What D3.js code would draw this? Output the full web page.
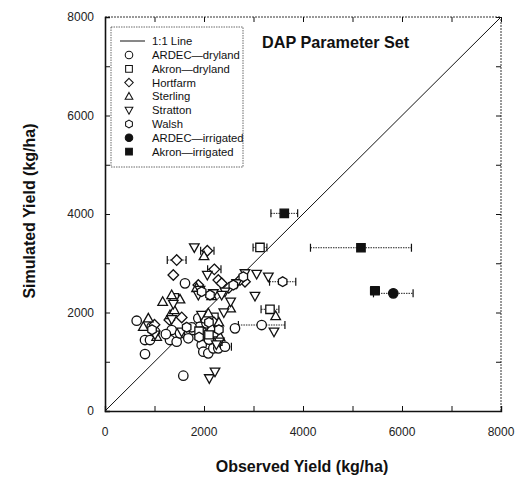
<!DOCTYPE html>
<html><head><meta charset="utf-8">
<script src="https://cdn.jsdelivr.net/npm/d3@7"></script>
<style>body{margin:0;background:#fff}svg{display:block}</style>
</head><body>
<svg id="c" width="524" height="484"></svg>
<script>
// [observed, simulated, xError(optional)]
const ardecDryland = [[640,1833],[808,1157],[808,1441],[909,1441],[943,1711],[1010,1610],[1313,1441],[1347,1644],[1448,1407],[1515,1577],[1683,1476],[1784,1644],[1885,1882],[1919,1711],[1953,1610],[1986,1509],[1953,1340],[1986,1204],[2087,1171],[2188,1272],[2289,1272],[2424,1305,130],[1582,717],[1616,2592],[2626,1678],[3165,1746,470],[2050,1780],[2150,1620],[2100,1450],[2250,1550],[1750,1700],[1230,1560],[2220,1700],[2020,1880]];
const akronDryland = [[3131,3321,140],[3333,2065,180],[2100,1550],[2200,1900],[1900,1620],[1400,2300],[2280,1420]];
const hortfarm = [[1448,3065,190],[2067,3254,135],[2208,2876,135],[1380,2761],[2289,2659],[2357,2592],[2828,2625],[2727,2659],[1885,2558],[1300,1850],[2200,1800],[2500,2500],[1550,1900],[1000,1750]];
const sterling = [[2000,3146],[1165,2219],[1347,2355],[1515,2267],[1313,1949],[875,1882],[774,1711],[3448,1929],[2538,2085],[2087,1984],[2155,2335],[2323,1509],[1044,1509],[1850,2500],[2150,1700],[2300,1800],[1400,2050]];
const stratton = [[1804,3321],[2067,2761],[1380,2172],[1549,1610],[2309,1407],[2107,663],[2222,798],[3414,1610],[3030,2335],[2538,2219],[3300,2726],[3064,2781],[2828,2795],[2660,2592],[2424,2422],[2357,2355],[1919,2456],[1885,2355],[2188,2389],[1347,1862],[1010,1550],[2250,1350],[1950,1950],[2400,2000]];
const walsh = [[3589,2625,265],[2592,2558],[2121,2355],[1953,2422],[2794,2726],[2100,1800],[1650,1700],[1900,1500],[2300,1650],[950,1650]];
const ardecIrrigated = [[5824,2389,400]];
const akronIrrigated = [[3622,4013,270],[5171,3315,1020],[5454,2442,90]];

const seriesNames = ["ARDEC\u2014dryland","Akron\u2014dryland","Hortfarm","Sterling","Stratton","Walsh","ARDEC\u2014irrigated","Akron\u2014irrigated"];
const seriesData = [ardecDryland, akronDryland, hortfarm, sterling, stratton, walsh, ardecIrrigated, akronIrrigated];
const seriesShapes = ["circle","square","diamond","up","down","hex","circle","square"];
const seriesFilled = [false,false,false,false,false,false,true,true];
const axisTicks = [0,2000,4000,6000,8000];
const minorTicks = [0,1000,2000,3000,4000,5000,6000,7000,8000];

const svg = d3.select("#c");
const x = d3.scaleLinear().domain([0,8000]).range([105,501]);
const y = d3.scaleLinear().domain([0,8000]).range([411,17]);
const font = "'Liberation Sans', Arial, sans-serif";

function shapePath(s){
  switch(s){
    case "circle": return d3.symbol(d3.symbolCircle, 70)();
    case "square": return "M-4.2,-4.2H4.2V4.2H-4.2Z";
    case "diamond": return "M0,-5.3L5.3,0L0,5.3L-5.3,0Z";
    case "up": return "M0,-5L4.8,3.6L-4.8,3.6Z";
    case "down": return "M0,5L4.8,-3.6L-4.8,-3.6Z";
    case "hex": {
      const r=4.9; let p=[];
      for(let i=0;i<6;i++){const a=Math.PI/6+i*Math.PI/3;p.push([r*Math.cos(a),r*Math.sin(a)]);}
      return "M"+p.map(d=>d.join(",")).join("L")+"Z";
    }
  }
}

// frame
svg.append("line").attr("x1",x(0)).attr("x2",x(8000)).attr("y1",y(8000)).attr("y2",y(8000)).attr("stroke","#333").attr("stroke-width",1).attr("stroke-dasharray","2,1");
svg.append("line").attr("x1",x(8000)).attr("x2",x(8000)).attr("y1",y(0)).attr("y2",y(8000)).attr("stroke","#333").attr("stroke-width",1).attr("stroke-dasharray","2,1");

// axes with inward ticks
const gx = svg.append("g").attr("transform",`translate(0,${y(0)})`)
  .call(d3.axisBottom(x).tickValues(minorTicks).tickSize(-5).tickFormat(""));
const gy = svg.append("g").attr("transform",`translate(${x(0)},0)`)
  .call(d3.axisLeft(y).tickValues(minorTicks).tickSize(-5).tickFormat(""));
const gt = svg.append("g").attr("transform",`translate(0,${y(8000)})`)
  .call(d3.axisTop(x).tickValues(minorTicks).tickSize(-5).tickFormat(""));
const gr = svg.append("g").attr("transform",`translate(${x(8000)},0)`)
  .call(d3.axisRight(y).tickValues(minorTicks).tickSize(-5).tickFormat(""));
[gt,gr].forEach(g=>g.select(".domain").remove());
[gx,gy,gt,gr].forEach(g=>g.selectAll(".tick line").attr("stroke","#111"));
gx.select(".domain").attr("stroke","#111").attr("stroke-width",1.4);
gy.select(".domain").attr("stroke","#111").attr("stroke-width",1.6);

// tick labels
svg.append("g").selectAll("text").data(axisTicks).join("text")
  .attr("x",d=>x(d)).attr("y",436).attr("text-anchor","middle")
  .attr("font-family",font).attr("font-size",12).attr("fill","#222").text(d=>d);
svg.append("g").selectAll("text").data(axisTicks).join("text")
  .attr("x",94).attr("y",d=>y(d)+4).attr("text-anchor","end")
  .attr("font-family",font).attr("font-size",12).attr("fill","#222").text(d=>d);

// axis titles
svg.append("text").attr("x",302).attr("y",472).attr("text-anchor","middle")
  .attr("font-family",font).attr("font-weight","bold").attr("font-size",16).attr("fill","#111")
  .text("Observed Yield (kg/ha)");
svg.append("text").attr("transform","translate(35,211) rotate(-90)").attr("text-anchor","middle")
  .attr("font-family",font).attr("font-weight","bold").attr("font-size",16).attr("fill","#111")
  .text("Simulated Yield (kg/ha)");

// title
svg.append("text").attr("x",262).attr("y",48)
  .attr("font-family",font).attr("font-weight","bold").attr("font-size",16.2).attr("fill","#111")
  .text("DAP Parameter Set");

// 1:1 line
svg.append("line").attr("x1",x(0)).attr("y1",y(0)).attr("x2",x(8000)).attr("y2",y(8000))
  .attr("stroke","#111").attr("stroke-width",1);

// error bars
const eb = svg.append("g");
seriesData.forEach(arr=>{
  arr.filter(d=>d.length>2).forEach(d=>{
    const x0=x(d[0]-d[2]), x1=x(d[0]+d[2]), yy=y(d[1]);
    eb.append("line").attr("x1",x0).attr("x2",x1).attr("y1",yy).attr("y2",yy)
      .attr("stroke","#222").attr("stroke-width",1).attr("stroke-dasharray","1.5,1");
    [x0,x1].forEach(xx=>eb.append("line").attr("x1",xx).attr("x2",xx).attr("y1",yy-4).attr("y2",yy+4)
      .attr("stroke","#111").attr("stroke-width",1.2));
  });
});

// points
seriesData.forEach((arr,i)=>{
  svg.append("g").selectAll("path").data(arr).join("path")
    .attr("transform",d=>`translate(${x(d[0])},${y(d[1])})`)
    .attr("d",shapePath(seriesShapes[i]))
    .attr("fill",seriesFilled[i]?"#111":"#fff")
    .attr("stroke","#111").attr("stroke-width",1.3);
});

// legend
const lg = svg.append("g");
lg.append("rect").attr("x",111).attr("y",27).attr("width",132).attr("height",140)
  .attr("fill","#fff").attr("stroke","#444").attr("stroke-width",0.8).attr("stroke-dasharray","1.5,1");
lg.append("line").attr("x1",120).attr("x2",145).attr("y1",41).attr("y2",41).attr("stroke","#111").attr("stroke-width",1);
lg.append("text").attr("x",152).attr("y",45).attr("font-family",font).attr("font-size",11.3).attr("fill","#111").text("1:1 Line");
seriesNames.forEach((n,i)=>{
  const yy = 55 + i*13.8;
  lg.append("path").attr("transform",`translate(129,${yy}) scale(0.8)`).attr("d",shapePath(seriesShapes[i]))
    .attr("fill",seriesFilled[i]?"#111":"#fff").attr("stroke","#111").attr("stroke-width",1.3);
  lg.append("text").attr("x",152).attr("y",yy+4).attr("font-family",font).attr("font-size",11.3).attr("fill","#111").text(n);
});
</script>
</body></html>
